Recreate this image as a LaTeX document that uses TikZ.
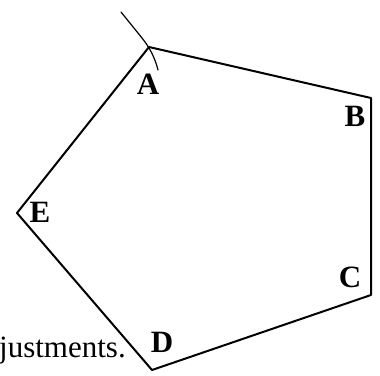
\documentclass[tikz,border=0pt]{standalone}
\usepackage{fontspec}
\setmainfont{Liberation Serif}
\begin{document}
\begin{tikzpicture}[x=1pt,y=-1pt,
  edge/.style={line width=2pt, line join=round},
  arcmark/.style={line width=1.2pt, line cap=round},
  vlabel/.style={font=\fontsize{31}{33}\selectfont\bfseries, inner sep=0pt},
  bodytext/.style={font=\fontsize{31}{33}\selectfont, inner sep=0pt, anchor=base west}]
\useasboundingbox (0,0) rectangle (380,375);
\coordinate (A) at (149,47);
\coordinate (B) at (371,98);
\coordinate (C) at (371,295);
\coordinate (D) at (152,370);
\coordinate (E) at (17,213);
\coordinate (m1) at (121,12);
\coordinate (m2) at (158,70);
\draw[edge] (A) -- (B) -- (C) -- (D) -- (E) -- cycle;
\draw[arcmark] (m1) -- (142,38) .. controls (150,48) and (155,58) .. (m2);
\node[vlabel] (la) at (148,84) {A};
\node[vlabel] (lb) at (355,116) {B};
\node[vlabel] (lc) at (350,277) {C};
\node[vlabel] (ld) at (162,342) {D};
\node[vlabel] (le) at (40,212) {E};
\node[bodytext] (txt) at (-1,357) {justments.};
\end{tikzpicture}
\end{document}
